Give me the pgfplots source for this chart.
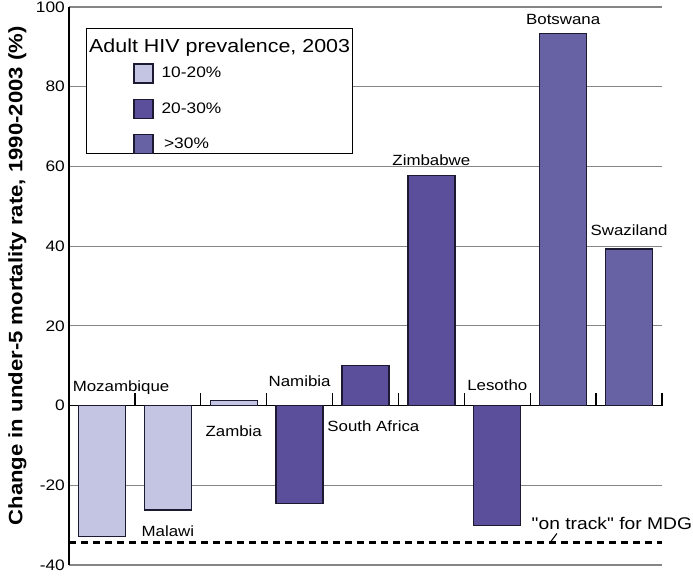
\documentclass[border=0pt]{standalone}
\usepackage{fontspec}
\setmainfont{Liberation Sans}[FakeStretch=1.14]
\newfontfamily\plainfont{Liberation Sans}[FakeStretch=1.14]
\usepackage{pgfplots}
\pgfplotsset{compat=1.18}
\definecolor{lowc}{HTML}{C4C5E2}
\definecolor{midc}{HTML}{5B4F9C}
\definecolor{highc}{HTML}{6762A4}
\definecolor{edgec}{HTML}{1C1A30}
\definecolor{gridc}{HTML}{858585}
\newcommand\tickfont{\fontsize{15.2bp}{17bp}\selectfont}
\newcommand\cfont{\fontsize{14.8bp}{17bp}\selectfont}
\newcommand\titlefont{\fontsize{18.8bp}{22bp}\selectfont}
\newcommand\entfont{\fontsize{15.2bp}{17bp}\selectfont}
\newcommand\mdgfont{\plainfont\fontsize{16.9bp}{20bp}\selectfont}
\newcommand\labfont{\fontsize{19.4bp}{22bp}\selectfont\bfseries}
\begin{document}
\begin{tikzpicture}
\begin{axis}[
  scale only axis, width=593bp, height=558bp,
  xmin=0.5, xmax=9.5, ymin=-40, ymax=100,
  axis x line=middle, axis y line=left,
  axis line style={-, black, line width=1.8bp},
  every inner x axis line/.append style={-},
  every outer y axis line/.append style={-},
  hide obscured x ticks=false, hide obscured y ticks=false,
  xtick={1.5,2.5,...,9.5}, xticklabels={},
  xtick style={black, line width=1.3bp},
  tick align=inside, major tick length=13bp,
  ytick={-40,-20,...,100}, yticklabels={-40,-20,0,20,40,60,80,100},
  ytick style={draw=none},
  yticklabel style={font=\tickfont, inner xsep=4bp},
  ymajorgrids, grid style={gridc, line width=1.1bp},
  ylabel={Change in under-5 mortality rate, 1990-2003 (\%)},
  ylabel style={font=\labfont, at={(axis description cs:-0.0868,0.518)}, anchor=center},
  clip=false,
  legend style={at={(axis description cs:0.1079,0.8996)}, anchor=north west,
    draw=none, fill=none, inner sep=0pt, row sep=15bp, font=\entfont,
    nodes={inner xsep=8bp}},
  legend cell align=left,
]
\coordinate (sw) at (rel axis cs:0,0);
\coordinate (ne) at (rel axis cs:1,1);
\node[draw=black, line width=1.3bp, fill=white, anchor=north west,
  minimum width=266bp, minimum height=125bp, inner sep=0pt]
  at (axis description cs:0.0287,0.9624) {};
\node[anchor=base west, inner sep=0pt, font=\titlefont]
  at (axis description cs:0.0337,0.9176) {Adult HIV prevalence, 2003};

\addplot[ybar, bar width=47bp, bar shift=0pt, fill=lowc, draw=edgec, line width=1.4bp, forget plot]
  coordinates {(1,-32.9) (2,-26.2) (3,1.2)};
\addplot[ybar, bar width=47bp, bar shift=0pt, fill=midc, draw=edgec, line width=1.4bp, forget plot]
  coordinates {(4,-24.5) (5,10.0) (6,57.7) (7,-30.1)};
\addplot[ybar, bar width=47bp, bar shift=0pt, fill=highc, draw=edgec, line width=1.4bp, forget plot]
  coordinates {(8,93.3) (9,39.3)};
\addplot[black, line width=2.7bp, dash pattern=on 7bp off 5bp, forget plot]
  coordinates {(0.5,-34.3) (9.5,-34.3)};

\addlegendimage{legend image code/.code={\draw[fill=lowc, draw=edgec, line width=1.4bp] (0bp,-9.5bp) rectangle (19bp,9.5bp);}}
\addlegendentry{10-20\%}
\addlegendimage{legend image code/.code={\draw[fill=midc, draw=edgec, line width=1.4bp] (0bp,-9.5bp) rectangle (19bp,9.5bp);}}
\addlegendentry{20-30\%}
\addlegendimage{legend image code/.code={\draw[fill=highc, draw=edgec, line width=1.4bp] (0bp,-9.5bp) rectangle (19bp,9.5bp);}}
\addlegendentry{\,>30\%}

\node[font=\cfont] at (axis cs:1.29,4.5) {Mozambique};
\node[font=\cfont] at (axis cs:2.0,-31.4) {Malawi};
\node[font=\cfont] at (axis cs:3.0,-6.5) {Zambia};
\node[font=\cfont] at (axis cs:4.0,6.0) {Namibia};
\node[font=\cfont] at (axis cs:5.12,-5.3) {South Africa};
\node[font=\cfont] at (axis cs:6.0,61.5) {Zimbabwe};
\node[font=\cfont] at (axis cs:7.0,5.0) {Lesotho};
\node[font=\cfont] at (axis cs:8.0,96.8) {Botswana};
\node[font=\cfont] at (axis cs:9.0,43.9) {Swaziland};
\node[font=\mdgfont, anchor=west, inner sep=0pt] at (axis cs:7.52,-29.6) {"on track" for MDG};
\draw[black, line width=1.1bp] (axis cs:7.905,-32.1) -- (axis cs:7.80,-34.4);
\end{axis}
\pgfresetboundingbox
\path ([shift={(-69bp,-13bp)}]sw) rectangle ([shift={(31bp,7bp)}]ne);
\end{tikzpicture}
\end{document}
